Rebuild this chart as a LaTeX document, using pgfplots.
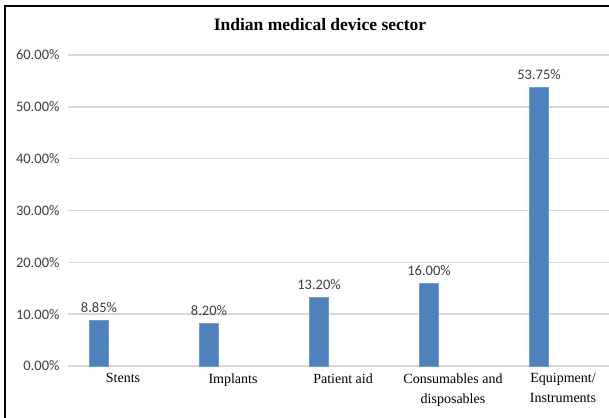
\documentclass[border=0pt]{standalone}
\usepackage{fontspec}
\setmainfont{Liberation Serif}
\newfontfamily\carlito{Carlito}
\usepackage{pgfplots}
\pgfplotsset{compat=1.18}
\definecolor{barblue}{HTML}{4F81BD}
\definecolor{gridgray}{HTML}{D9D9D9}
\definecolor{labgray}{HTML}{404040}
\begin{document}
\begin{tikzpicture}[x=1pt,y=1pt]
\useasboundingbox (0,0) rectangle (609,417);
\draw[line width=2.5pt] (5,-2) -- (5,411) -- (612,411);
\node[font=\fontsize{17.5}{20}\selectfont\bfseries] at (320,392) {Indian medical device sector};
\begin{axis}[
  at={(68pt,51pt)}, anchor=south west,
  scale only axis, width=541pt, height=311pt,
  xmin=-0.5, xmax=4.418, ymin=0, ymax=60,
  axis line style={draw=none},
  ymajorgrids, grid style={gridgray, line width=1.5pt},
  ytick={0,10,20,30,40,50,60},
  yticklabel={\pgfmathprintnumber[fixed,fixed zerofill,precision=2]{\tick}\%},
  yticklabel style={font=\carlito\fontsize{14.5}{16}\selectfont, text=labgray, xshift=-5pt},
  /pgf/number format/assume math mode=true,
  ytick style={draw=none}, xtick style={draw=none},
  xtick={0,1,2,3,4},
  xticklabels={Stents, Implants, Patient aid, {Consumables and\\disposables}, {Equipment/\\Instruments}},
  xticklabel style={font=\fontsize{14}{20}\selectfont, align=center, text=black, yshift=-4pt},
  clip=false,
]
\addplot[ybar, bar width=19pt, bar shift=-24pt, fill=barblue, draw=barblue!80!white,
  nodes near coords={\pgfmathprintnumber[fixed,fixed zerofill,precision=2]{\pgfplotspointmeta}\%},
  nodes near coords style={font=\carlito\fontsize{14.5}{16}\selectfont, text=labgray, yshift=4pt, xshift=-24pt},
  point meta=y]
  coordinates {(0,8.85) (1,8.20) (2,13.20) (3,16.00) (4,53.75)};
\end{axis}
\end{tikzpicture}
\end{document}
